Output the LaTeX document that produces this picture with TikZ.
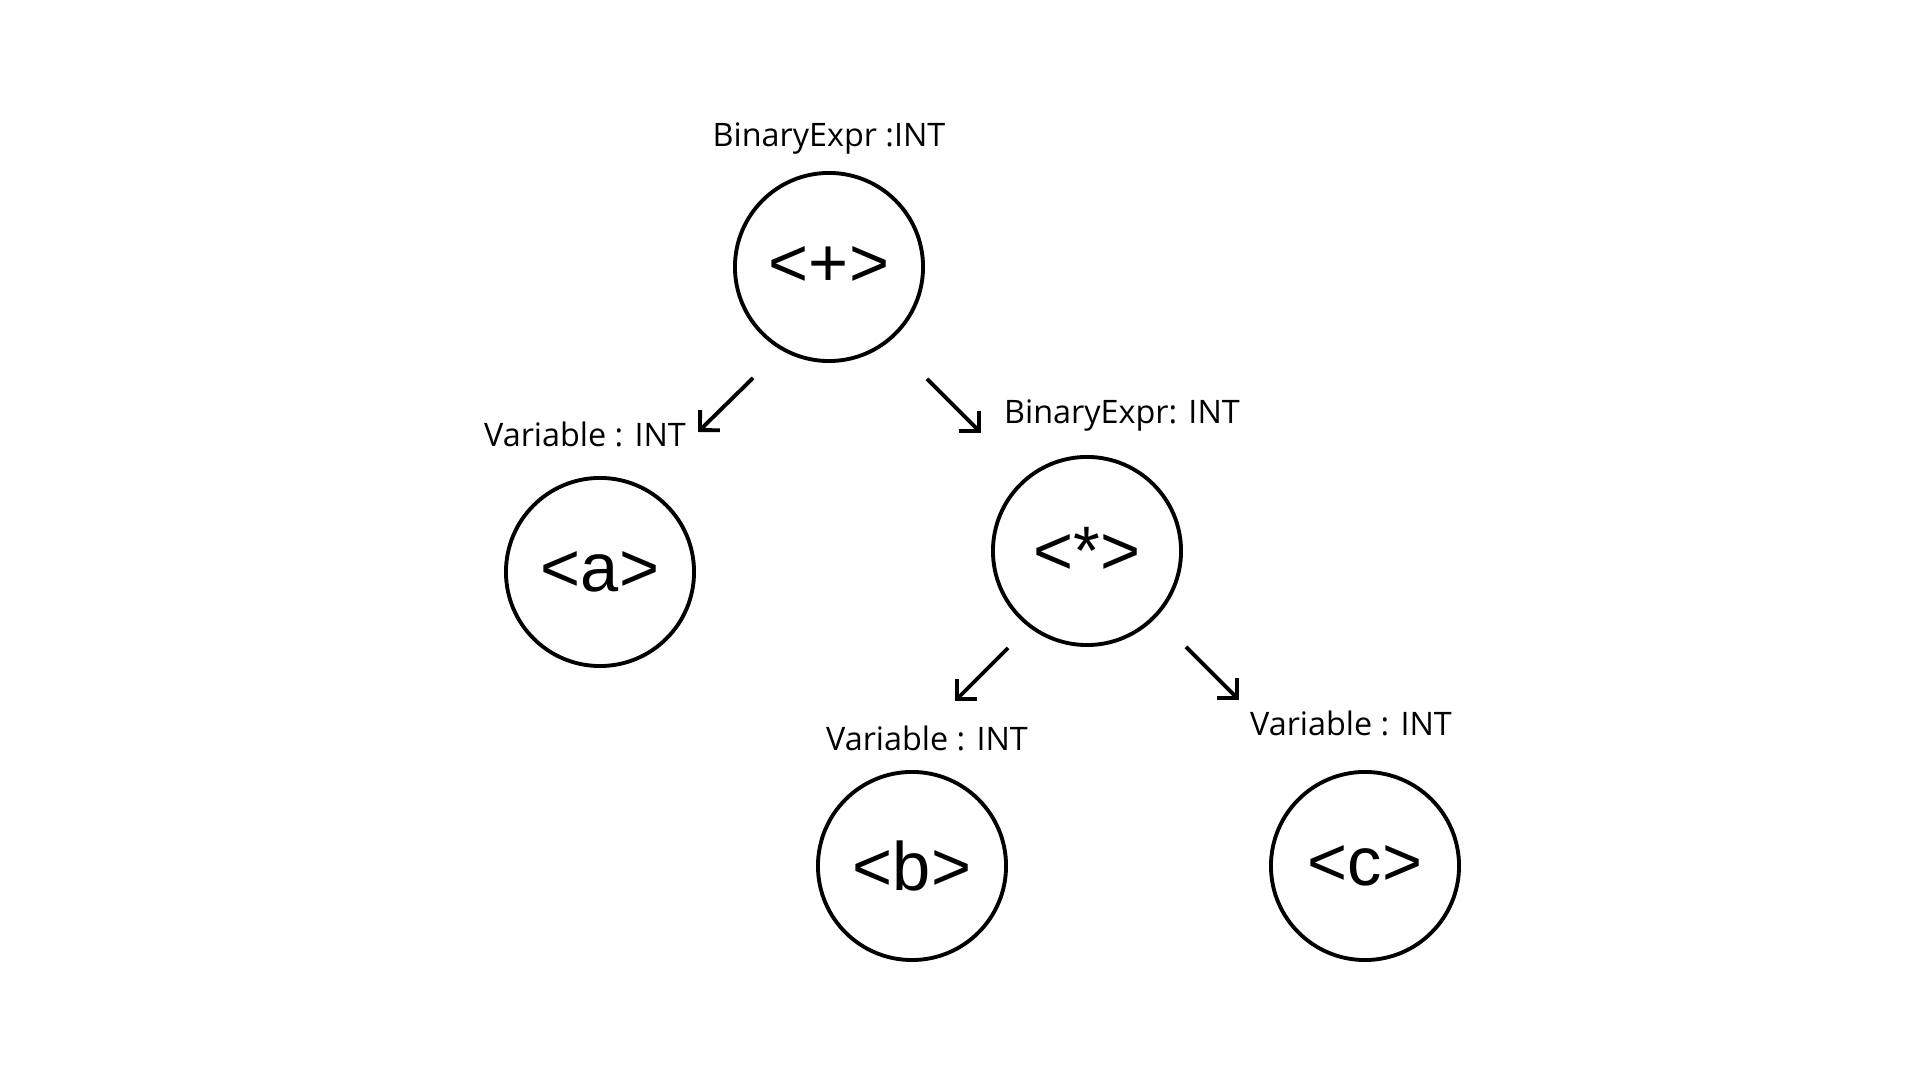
\documentclass[tikz,border=0pt]{standalone}
\usepackage{fontspec}
\setmainfont{Open Sans}
\newfontfamily\nodefont{Liberation Sans}
\usetikzlibrary{arrows.meta}

\begin{document}
\begin{tikzpicture}[x=0.01cm,y=-0.01cm]
	\tikzstyle{every node}+=[inner sep=0pt]
	\tikzstyle{astnode}=[draw=black,line width=1.1pt,circle,minimum size=1.88cm,font=\nodefont\fontsize{19.5}{20}\selectfont]
	\tikzstyle{typelabel}=[font=\fontsize{9.2}{11}\selectfont]
	\tikzstyle{edge}=[line width=1.1pt,-{Straight Barb[length=4pt,width=8pt]}]
	\useasboundingbox (0,0) rectangle (1920,1080);
	% tree nodes
	\node [astnode] (plus) at (829,267) {<+>};
	\node [astnode] (a) at (600,572) {<a>};
	\node [astnode] (times) at (1087,551) {<*>};
	\node [astnode] (b) at (912,866) {<b>};
	\node [astnode] (c) at (1365,866) {<c>};
	% type labels
	\node [typelabel] (plustype) at (829,139) {BinaryExpr :INT};
	\node [typelabel] (atype) at (585,434) {Variable : INT};
	\node [typelabel] (timestype) at (1122,416) {BinaryExpr: INT};
	\node [typelabel] (btype) at (927,738) {Variable : INT};
	\node [typelabel] (ctype) at (1351,723) {Variable : INT};
	% arrow ends
	\coordinate (e1s) at (753,378);
	\coordinate (e1t) at (698,432);
	\coordinate (e2s) at (927,379);
	\coordinate (e2t) at (981,433);
	\coordinate (e3s) at (1008,648);
	\coordinate (e3t) at (955,701);
	\coordinate (e4s) at (1186,647);
	\coordinate (e4t) at (1239,700);
	\draw [edge] (e1s) -- (e1t);
	\draw [edge] (e2s) -- (e2t);
	\draw [edge] (e3s) -- (e3t);
	\draw [edge] (e4s) -- (e4t);
\end{tikzpicture}
\end{document}
